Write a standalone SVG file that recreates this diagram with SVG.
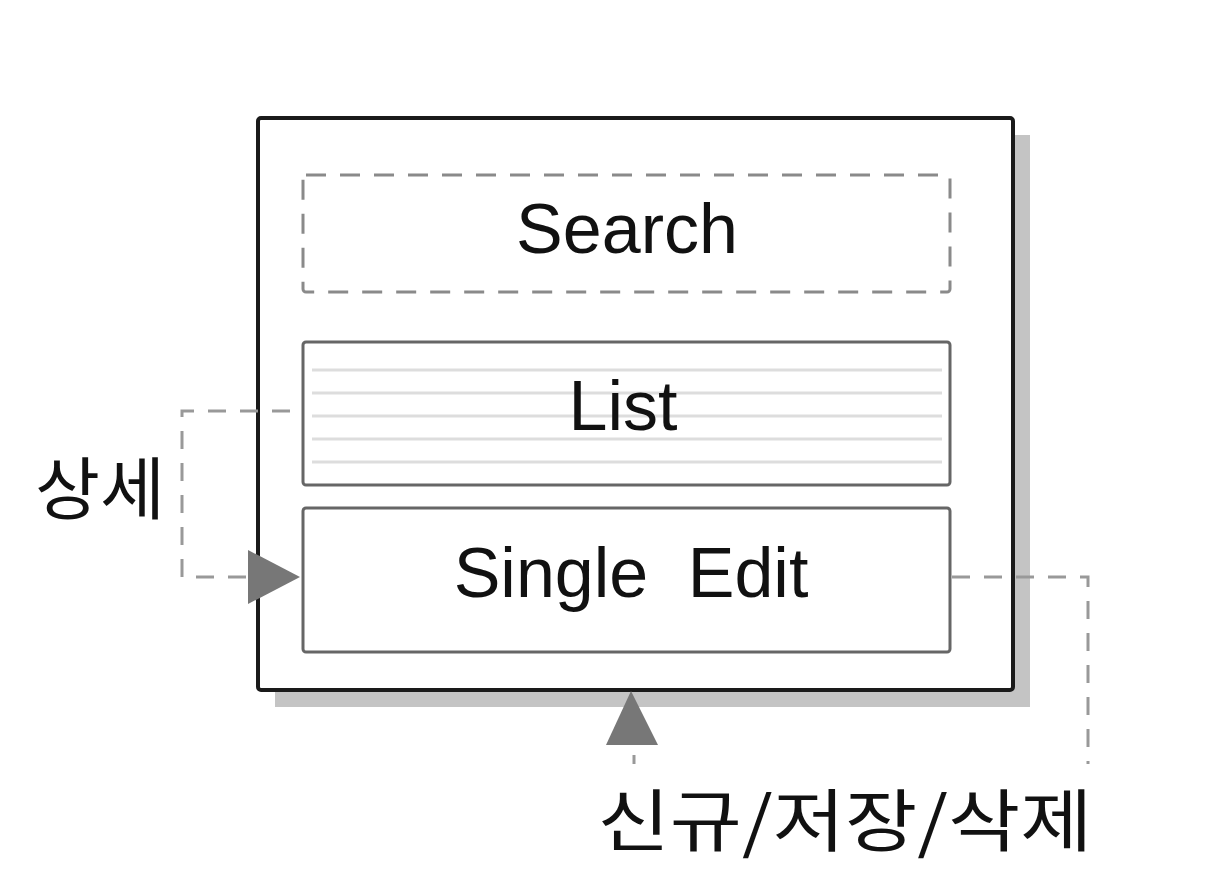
<svg xmlns="http://www.w3.org/2000/svg" width="1232" height="888" viewBox="0 0 1232 888">
<defs>
<style>
.lbl{font-family:"Liberation Sans",Arial,sans-serif;font-size:70px;fill:#111;text-anchor:middle}
.ko{font-family:"Noto Sans CJK KR","Liberation Sans",sans-serif;font-size:68px;fill:#111;text-anchor:middle}
.inner{fill:#fff;stroke:#666;stroke-width:3}
.conn{fill:none;stroke:#999;stroke-width:3;stroke-dasharray:18 14}
.row{stroke:#ddd;stroke-width:3}
</style>
</defs>
<rect width="1232" height="888" fill="#fff"/>
<g id="container">
<rect x="275" y="135" width="755" height="572" fill="#c4c4c4"/>
<rect x="258" y="118" width="755" height="572" rx="3" fill="#fff" stroke="#1a1a1a" stroke-width="4"/>
</g>
<g id="search">
<rect x="303" y="175" width="647" height="117" rx="3" fill="#fff" stroke="#8a8a8a" stroke-width="3" stroke-dasharray="20 14"/>
<text class="lbl" x="627" y="253">Search</text>
</g>
<g id="list">
<rect class="inner" x="303" y="342" width="647" height="143" rx="3"/>
<line class="row" x1="312" y1="370" x2="942" y2="370"/>
<line class="row" x1="312" y1="393" x2="942" y2="393"/>
<line class="row" x1="312" y1="416" x2="942" y2="416"/>
<line class="row" x1="312" y1="439" x2="942" y2="439"/>
<line class="row" x1="312" y1="462" x2="942" y2="462"/>
<text class="lbl" x="623" y="430">List</text>
</g>
<g id="single-edit">
<rect class="inner" x="303" y="508" width="647" height="144" rx="3"/>
<text class="lbl" x="631" y="597" word-spacing="20">Single Edit</text>
</g>
<g id="connectors">
<path class="conn" d="M290,411 L182,411 L182,577 L250,577"/>
<path d="M248,550 L300,577 L248,604 Z" fill="#777"/>
<path class="conn" d="M952,577 L1088,577 L1088,780 L634,780 L634,745"/>
<path d="M606,745 L631,691 L658,745 Z" fill="#777"/>
</g>
<g id="labels">
<text class="ko" x="100" y="514" textLength="130" lengthAdjust="spacingAndGlyphs">상세</text>
<rect x="585" y="764" width="515" height="95" fill="#fff"/>
<text class="ko" x="845" y="846" textLength="495" lengthAdjust="spacingAndGlyphs">신규/저장/삭제</text>
</g>
</svg>
